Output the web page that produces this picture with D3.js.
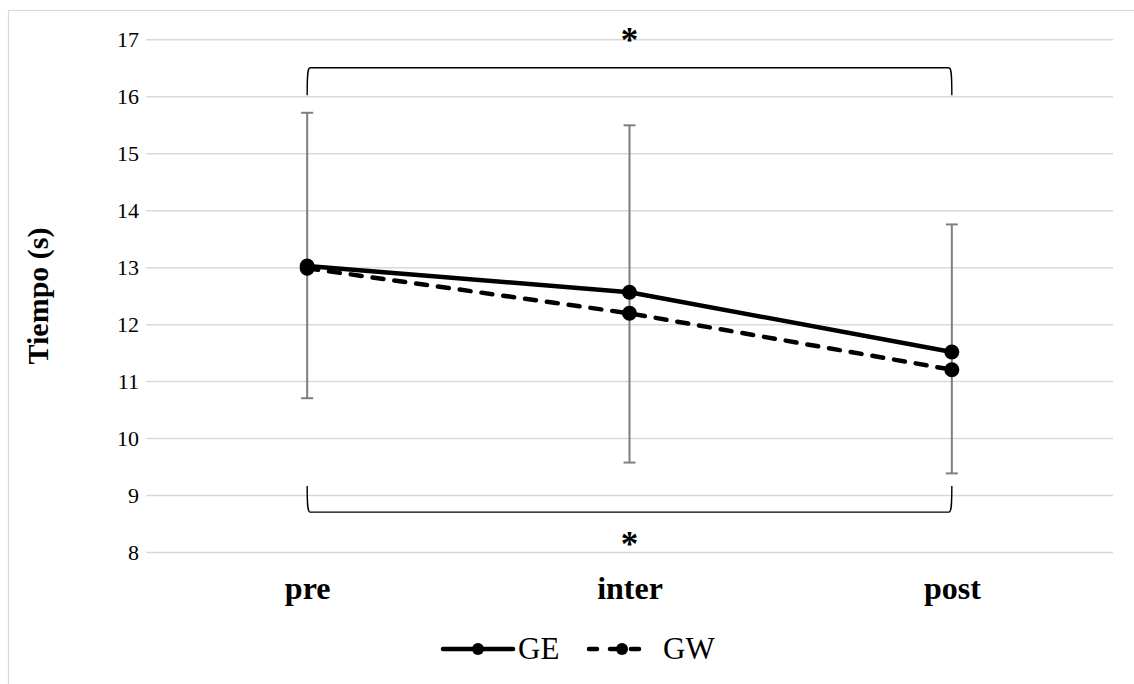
<!DOCTYPE html>
<html>
<head>
<meta charset="utf-8">
<script src="https://cdn.jsdelivr.net/npm/d3@7"></script>
<style>
html,body{margin:0;padding:0;background:#fff;}
svg{display:block;font-family:"Liberation Serif","Times New Roman",serif;}
</style>
</head>
<body>
<svg id="chart" width="1134" height="684"></svg>
<script>
const categories = ["pre", "inter", "post"];
const seriesNames = ["GE", "GW"];
const geValues = [13.02, 12.56, 11.51];
const gwValues = [12.98, 12.19, 11.20];
const errUpper = [15.71, 15.49, 13.75];
const errLower = [10.70, 9.57, 9.38];
const yTicks = [8, 9, 10, 11, 12, 13, 14, 15, 16, 17];

const svg = d3.select("#chart");
const W = 1134, H = 684;

// frame
svg.append("rect").attr("x", 8.5).attr("y", 10.5).attr("width", W + 10).attr("height", H + 10)
  .attr("fill", "#fff").attr("stroke", "#d9d9d9").attr("stroke-width", 1.2);

const x = d3.scalePoint().domain(categories).range([146, 1113]).padding(0.5);
const y = d3.scaleLinear().domain([8, 17]).range([552, 39.3]);

// gridlines
const yAxis = d3.axisLeft(y).tickValues(yTicks).tickSize(-(1113 - 146)).tickPadding(7).tickFormat(d3.format("d"));
const gY = svg.append("g").attr("transform", "translate(146,0)").call(yAxis);
gY.select(".domain").remove();
gY.selectAll(".tick line").attr("stroke", "#d9d9d9").attr("stroke-width", 1.5);
gY.selectAll(".tick text").attr("font-size", 22).attr("fill", "#000")
  .attr("font-family", "'Liberation Serif', serif").attr("x", -7);

// x axis labels
const xAxis = d3.axisBottom(x).tickSize(0).tickPadding(0);
const gX = svg.append("g").attr("transform", "translate(0,552)").call(xAxis);
gX.select(".domain").remove();
gX.selectAll(".tick text").attr("font-size", 32).attr("font-weight", "bold").attr("fill", "#000")
  .attr("font-family", "'Liberation Serif', serif").attr("dy", null).attr("y", 47);

// y title
svg.append("text").attr("transform", "translate(48,296) rotate(-90)")
  .attr("text-anchor", "middle").attr("font-size", 30).attr("font-weight", "bold").text("Tiempo (s)");

// error bars
const eb = svg.append("g").attr("stroke", "#7f7f7f").attr("stroke-width", 2).attr("fill", "none");
categories.forEach((c, i) => {
  const cx = x(c);
  eb.append("line").attr("x1", cx).attr("x2", cx).attr("y1", y(errUpper[i])).attr("y2", y(errLower[i]));
  eb.append("line").attr("x1", cx - 6).attr("x2", cx + 6).attr("y1", y(errUpper[i])).attr("y2", y(errUpper[i]));
  eb.append("line").attr("x1", cx - 6).attr("x2", cx + 6).attr("y1", y(errLower[i])).attr("y2", y(errLower[i]));
});

// significance brackets
function bracket(yH, yEnd, dir) {
  const x1 = x(categories[0]), x2 = x(categories[2]);
  const h = y(yH), e = y(yEnd);
  const r = 5 * dir;
  return `M${x1},${e} C${x1},${h + r * 1.2} ${x1 + 0.5},${h} ${x1 + 3},${h} L${x2 - 3},${h} C${x2 - 0.5},${h} ${x2},${h + r * 1.2} ${x2},${e}`;
}
svg.append("path").attr("d", bracket(16.5, 16.02, 1)).attr("fill", "none").attr("stroke", "#000").attr("stroke-width", 1.4);
svg.append("path").attr("d", bracket(8.7, 9.16, -1)).attr("fill", "none").attr("stroke", "#000").attr("stroke-width", 1.4);
const midX = x(categories[1]);
svg.append("text").attr("x", midX).attr("y", y(17.03) + 14).attr("text-anchor", "middle")
  .attr("font-size", 35).attr("font-weight", "bold").text("*");
svg.append("text").attr("x", midX).attr("y", y(8.16) + 13).attr("text-anchor", "middle")
  .attr("font-size", 35).attr("font-weight", "bold").text("*");

// lines
const line = d3.line().x((d, i) => x(categories[i])).y(d => y(d));
svg.append("path").datum(geValues).attr("d", line).attr("fill", "none").attr("stroke", "#000")
  .attr("stroke-width", 4.5).attr("stroke-linejoin", "round");
svg.append("path").datum(gwValues).attr("d", line).attr("fill", "none").attr("stroke", "#000")
  .attr("stroke-width", 4.5).attr("stroke-dasharray", "11,11").attr("stroke-linecap", "round");

[geValues, gwValues].forEach(vals => {
  svg.append("g").selectAll("circle").data(vals).join("circle")
    .attr("cx", (d, i) => x(categories[i])).attr("cy", d => y(d)).attr("r", 7.5).attr("fill", "#000");
});

// legend
const lg = svg.append("g");
const ly = 649;
lg.append("line").attr("x1", 443).attr("x2", 513).attr("y1", ly).attr("y2", ly)
  .attr("stroke", "#000").attr("stroke-width", 4.5).attr("stroke-linecap", "round");
lg.append("circle").attr("cx", 478).attr("cy", ly).attr("r", 6).attr("fill", "#000");
lg.append("text").attr("x", 518).attr("y", 659).attr("font-size", 31).text(seriesNames[0]);
lg.append("line").attr("x1", 589).attr("x2", 649).attr("y1", ly).attr("y2", ly)
  .attr("stroke", "#000").attr("stroke-width", 4.5).attr("stroke-linecap", "round").attr("stroke-dasharray", "8,13");
lg.append("circle").attr("cx", 622).attr("cy", ly).attr("r", 6).attr("fill", "#000");
lg.append("text").attr("x", 663).attr("y", 659).attr("font-size", 31).text(seriesNames[1]);
</script>
</body>
</html>
